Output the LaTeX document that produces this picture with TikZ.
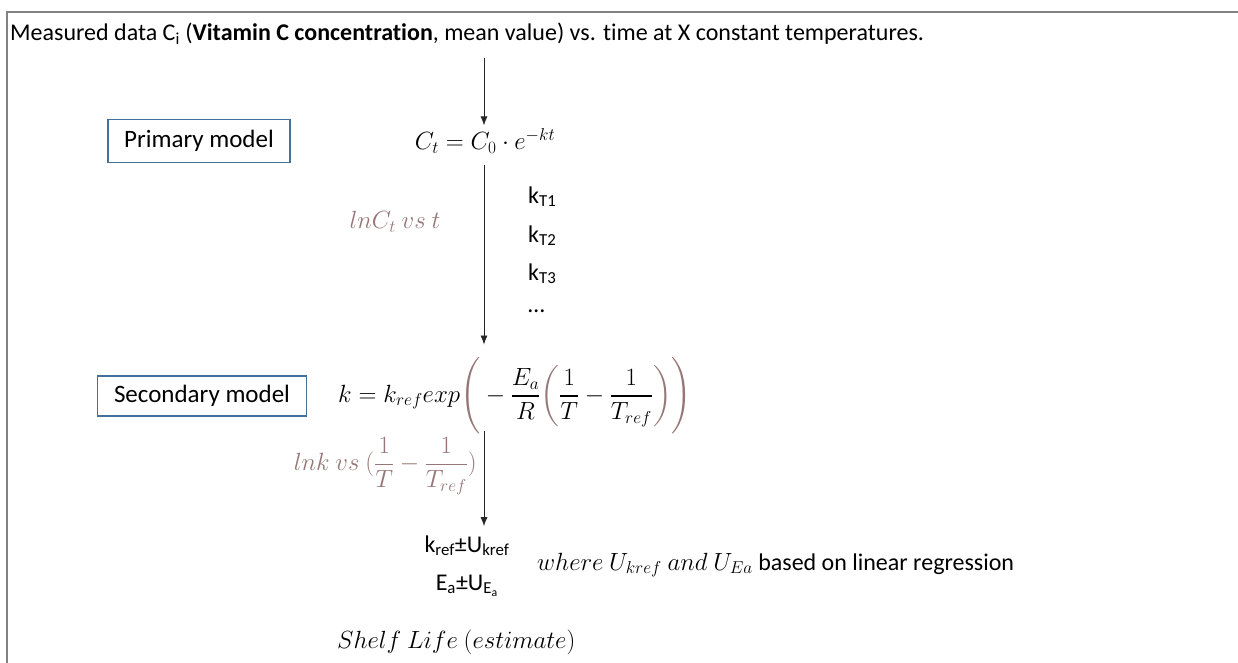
\documentclass[tikz,border=0pt]{standalone}
\usepackage{amsmath,amssymb}
\usepackage{xcolor}
\usepackage{fontspec}
\setmainfont{Carlito}[Ligatures=NoCommon]
\usepackage{tikz}
\usetikzlibrary{arrows.meta,positioning}

\definecolor{boxblue}{RGB}{65,113,156}
\definecolor{fitbrown}{RGB}{150,118,118}
\definecolor{framegray}{RGB}{130,130,130}

\begin{document}
\begin{tikzpicture}[
  x=1pt,y=-1pt,
  every node/.style={font=\fontsize{24}{28}\selectfont,inner sep=1pt},
  modelbox/.style={draw=boxblue,line width=1.2pt,align=center,font=\fontsize{25}{29}\selectfont},
  eqn/.style={font=\fontsize{25.5}{30}\selectfont},
  fitlabel/.style={eqn,text=fitbrown},
  arr/.style={-{Latex[length=9pt,width=7pt]},line width=0.8pt,black!85}
]
  \useasboundingbox (0,0) rectangle (1238,663);
  % frame (cut by the page edge)
  \draw[framegray,line width=1.3pt] (1238,12) -- (7,12) -- (7,663);

  \node[anchor=base west] (title) at (9,41)
    {Measured data C\textsubscript{i} (\textbf{Vitamin C concentration}, mean value) vs. time at X constant temperatures.};
  \coordinate (axis) at (484,0);

  \node[modelbox,minimum width=182pt,minimum height=43pt] (primbox) at (199,141) {Primary model};
  \node[eqn,font=\fontsize{26.5}{30}\selectfont] (primeq) at (485,141) {$C_t = C_0\cdot e^{-kt}$};
  \node[anchor=base west] (kt1) at (527,203) {k\textsubscript{T1}};
  \node[anchor=base west] (kt2) at (527,242) {k\textsubscript{T2}};
  \node[anchor=base west] (kt3) at (527,280) {k\textsubscript{T3}};
  \node[anchor=base west] (kdots) at (527,312) {\dots};
  \node[fitlabel] (lnct) at (395,222) {$lnC_t\ vs\ t$};

  \node[modelbox,minimum width=209pt,minimum height=40pt] (secbox) at (202,396) {Secondary model};
  \node[eqn,anchor=west] (seceq) at (337,396)
    {$k = k_{ref}exp\textcolor{fitbrown}{\Bigg(}-\dfrac{E_a}{R}\textcolor{fitbrown}{\bigg(}\dfrac{1}{T}-\dfrac{1}{T_{ref}}\textcolor{fitbrown}{\bigg)}\textcolor{fitbrown}{\Bigg)}$};
  \node[fitlabel,anchor=east] (lnk) at (478,466)
    {$\displaystyle lnk\ vs\ (\frac{1}{T}-\frac{1}{T_{ref}})$};

  \node[anchor=base] (kref) at (467,552) {k\textsubscript{ref}±U\textsubscript{kref}};
  \node[anchor=base] (ea) at (467,590) {E\textsubscript{a}±U\textsubscript{E\textsubscript{a}}};
  \node[anchor=base west] (where) at (536,570)
    {{\fontsize{25.5}{30}\selectfont$where\ U_{kref}\ and\ U_{Ea}$} based on linear regression};
  \node[eqn,anchor=base west,font=\fontsize{25.3}{30}\selectfont] (shelf) at (336,648) {$Shelf\ Life\ (estimate)$};

  \draw[arr] (title.south -| axis) ++(0,12) -- ([yshift=2pt]primeq.north -| axis);
  \draw[arr] ([yshift=-10pt]primeq.south -| axis) -- ([yshift=12pt]seceq.north -| axis);
  \draw[arr] ([yshift=4pt]seceq.south -| axis) -- ([yshift=8pt]kref.north -| axis);
\end{tikzpicture}
\end{document}
